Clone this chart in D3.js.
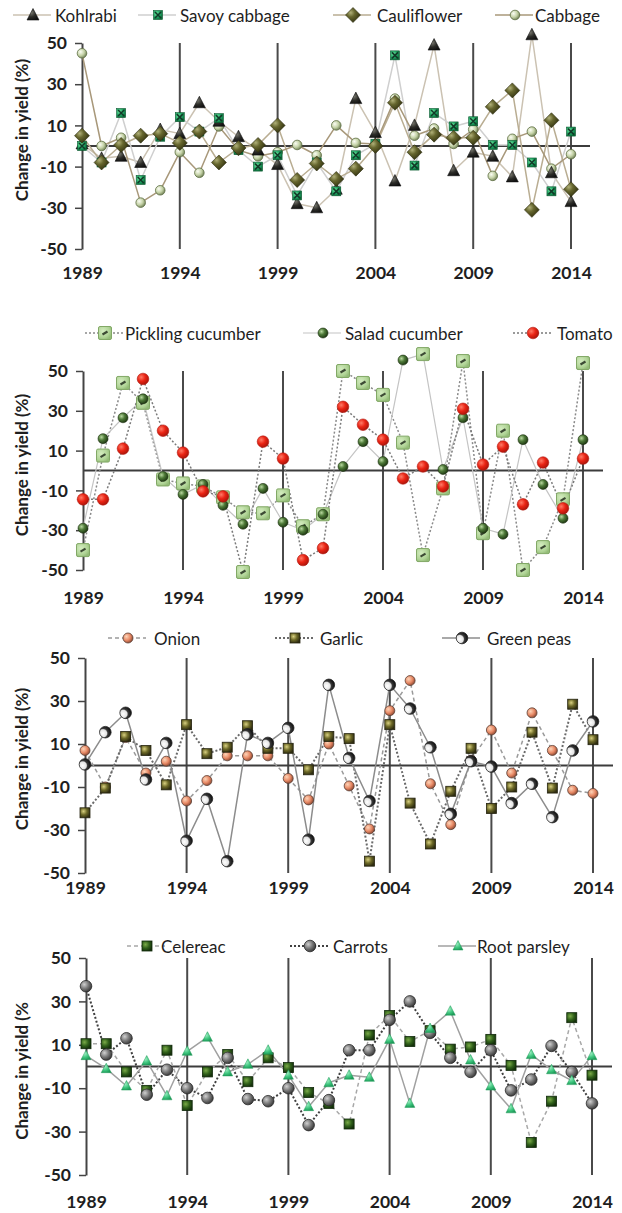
<!DOCTYPE html>
<html><head><meta charset="utf-8">
<script src="https://cdn.jsdelivr.net/npm/d3@7"></script>
<style>body{margin:0;background:#fff}svg{display:block}</style>
</head><body>
<svg id="chart" width="622" height="1213"></svg>
<script>
// Years on the x axis and the labelled ticks
const years = [1989,1990,1991,1992,1993,1994,1995,1996,1997,1998,1999,2000,2001,
               2002,2003,2004,2005,2006,2007,2008,2009,2010,2011,2012,2013,2014];
const yearTicks = [1989,1994,1999,2004,2009,2014];
const yTicks = [50,30,10,-10,-30,-50];

// Change in yield (%) by crop, 1989-2014
const kohlrabi = [1,-6,-5,-8,8,6,21,12,4.5,-2,-9,-28,-30,-21,23,6.5,-17,10,49,-12,-3,-5,-15,54,-13,-27];
const savoyCabbage = [0,-8,16,-16.5,4.5,14,7,13.5,-2,-10,-4.5,-24,-8,-22,-4.5,1,44,-9.5,16,9.5,12,0.5,0.5,-8,-22,7];
const cauliflower = [5,-8,0.5,5,6,1.5,7,-8,-1,0.5,10,-16.5,-8.5,-16,-11,0,21,-3,5.5,4,4,19,27,-31,12.5,-21];
const cabbage = [45,0,4,-27.5,-21.5,-3,-13,9.5,-2,-5,-3,0.5,-4.5,10,1.5,1,23,5,8.5,1,8,-14.5,3.5,7,-11,-4];

const picklingCucumber = [-40,7.5,44,34,-4.5,-6.5,-8,-13.5,-21,-21.5,-12.5,-28,-22,50,44,38,14,-42.5,-9,55,-31.5,20,-50,-38.5,-14.5,54];
const saladCucumber = [-29,16,26.5,36,-3,-12,-7,-17.5,-27,-9,-26,-30,-22,2,14.5,4.5,55.5,58.5,0.5,26.5,-29,-32,15.5,-7,-24,15.5];
const tomato = [-14.5,-14.5,11,46,20,9,-10.5,-13,-51,14.5,6,-45,-39,32,23,15.5,-4,2,-8,31,3,12,-17,4,-19,6];
// single points that carry a square marker instead of their series marker
const squareMarkedPoints = [{series:"Tomato", year:1997}, {series:"Salad cucumber", year:2006}];

const onion = [7,-10,13,-3.5,2,-16.5,-7,4.5,4.5,4.5,-6,-16,10,-9.5,-29.5,25.5,39.5,-8.5,-27.5,2.5,16.5,-3.5,24.5,7,-11.5,-13];
const garlic = [-22,-10.5,13.5,7,-9,19,5.5,8.5,18.5,8,8,-2,13.5,12.5,-44.5,19,-17.5,-36.5,-12,8,-20,-10,15.5,-10.5,28.5,12];
const greenPeas = [0.5,15.5,24.5,-6.5,10.5,-35,-15.5,-44.5,14.5,10.5,17.5,-34.5,37.5,3.5,-16.5,37.5,26.5,8.5,-22.5,2,-0.5,-17.5,-8.5,-24,7,20.5];

const celereac = [10.5,10.5,-2.5,-11,7.5,-18,-2.5,5.5,-7,4,-0.5,-12,-17,-26.5,14.5,23.5,11.5,16.5,8,9,12.5,0.5,-35,-16,22.5,-4];
const carrots = [37,5.5,13,-13,-1.5,-10,-14.5,4,-15,-16,-10,-27,-15.5,7.5,7.5,21.5,30,15.5,4,-2.5,7.5,-11,-6,9.5,-2.5,-17];
const rootParsley = [5,-1,-9,2.5,-13.5,7,13.5,-2.5,1,7.5,-4,-18.5,-7.5,-4,-5,12.5,-17,17.5,25.5,3,-9,-19.5,5.5,-1.5,-6.5,5];

const FONT = "Lato, 'Open Sans', sans-serif";
const svg = d3.select("#chart");
const defs = svg.append("defs");

function radial(id, stops, cx = "35%", cy = "35%") {
  const gr = defs.append("radialGradient").attr("id", id)
    .attr("cx", cx).attr("cy", cy).attr("r", "70%");
  stops.forEach(([o, c]) => gr.append("stop").attr("offset", o).attr("stop-color", c));
}
radial("gKohl", [["0%", "#7a7a70"], ["55%", "#2c2c28"], ["100%", "#111"]]);
radial("gSavoy", [["0%", "#6ee8a0"], ["60%", "#1ea060"], ["100%", "#0c6a38"]]);
radial("gOlive", [["0%", "#b0b078"], ["40%", "#66662e"], ["100%", "#30300f"]]);
radial("gCab", [["0%", "#fbfdf4"], ["55%", "#c4d2a6"], ["100%", "#6e7e54"]]);
radial("gPick", [["0%", "#d4ecc0"], ["70%", "#b0d496"], ["100%", "#94bc78"]]);
radial("gSalad", [["0%", "#b8d8a0"], ["45%", "#4e7a38"], ["100%", "#1c3410"]]);
radial("gTomato", [["0%", "#ff7a66"], ["50%", "#ea2414"], ["100%", "#a8140a"]]);
radial("gOnion", [["0%", "#fdd4b8"], ["55%", "#e88a66"], ["100%", "#8a4630"]]);
radial("gGarlic", [["0%", "#d8d080"], ["50%", "#6e6a28"], ["100%", "#2e2c10"]]);
radial("gPeas", [["0%", "#ffffff"], ["45%", "#e4e4e4"], ["60%", "#3a3a3a"], ["100%", "#0e0e0e"]], "30%", "60%");
radial("gCeler", [["0%", "#7aaa48"], ["55%", "#30601a"], ["100%", "#14300a"]]);
radial("gCarrot", [["0%", "#d0d0d0"], ["50%", "#7c7c7c"], ["100%", "#343434"]]);
radial("gParsley", [["0%", "#a0f0c4"], ["60%", "#3cc47c"], ["100%", "#1e9a58"]]);

// Marker shapes, each drawn centred on (cx, cy)
const markers = {
  triangleDark(g, cx, cy) {
    g.append("path").attr("d", `M${cx},${cy-6.5}L${cx+6},${cy+5}L${cx-6},${cy+5}Z`)
      .attr("fill", "url(#gKohl)").attr("stroke", "#111").attr("stroke-width", 0.6);
  },
  savoySquare(g, cx, cy) {
    g.append("rect").attr("x", cx-4.5).attr("y", cy-4.5).attr("width", 9).attr("height", 9)
      .attr("fill", "url(#gSavoy)").attr("stroke", "#0a5a30").attr("stroke-width", 0.6);
    g.append("path").attr("d", `M${cx-3},${cy-3}L${cx+3},${cy+3}M${cx+3},${cy-3}L${cx-3},${cy+3}`)
      .attr("stroke", "#123a28").attr("stroke-width", 1.6);
  },
  diamond(g, cx, cy) {
    g.append("path").attr("d", `M${cx},${cy-7.5}L${cx+7.5},${cy}L${cx},${cy+7.5}L${cx-7.5},${cy}Z`)
      .attr("fill", "url(#gOlive)").attr("stroke", "#2e2e10").attr("stroke-width", 0.6);
  },
  cabbageCircle(g, cx, cy) {
    g.append("circle").attr("cx", cx).attr("cy", cy).attr("r", 4.8)
      .attr("fill", "url(#gCab)").attr("stroke", "#5e6e44").attr("stroke-width", 0.8);
  },
  pickleSquare(g, cx, cy) {
    g.append("rect").attr("x", cx-6.5).attr("y", cy-6.5).attr("width", 13).attr("height", 13).attr("rx", 1.5)
      .attr("fill", "url(#gPick)").attr("stroke", "#82a866").attr("stroke-width", 1);
    g.append("path").attr("d", `M${cx-2.5},${cy+1.5}L${cx+2.5},${cy-1.5}`)
      .attr("stroke", "#3c4a34").attr("stroke-width", 2.2);
  },
  saladCircle(g, cx, cy) {
    g.append("circle").attr("cx", cx).attr("cy", cy).attr("r", 5)
      .attr("fill", "url(#gSalad)").attr("stroke", "#1c3010").attr("stroke-width", 0.6);
  },
  tomatoCircle(g, cx, cy) {
    g.append("circle").attr("cx", cx).attr("cy", cy).attr("r", 5.8)
      .attr("fill", "url(#gTomato)").attr("stroke", "#b01a10").attr("stroke-width", 0.6);
  },
  onionCircle(g, cx, cy) {
    g.append("circle").attr("cx", cx).attr("cy", cy).attr("r", 5)
      .attr("fill", "url(#gOnion)").attr("stroke", "#5a4036").attr("stroke-width", 0.8);
  },
  garlicSquare(g, cx, cy) {
    g.append("rect").attr("x", cx-5).attr("y", cy-5).attr("width", 10).attr("height", 10)
      .attr("fill", "url(#gGarlic)").attr("stroke", "#262410").attr("stroke-width", 0.8);
  },
  peasCircle(g, cx, cy) {
    g.append("circle").attr("cx", cx).attr("cy", cy).attr("r", 5.8)
      .attr("fill", "url(#gPeas)").attr("stroke", "#222").attr("stroke-width", 0.8);
  },
  celerSquare(g, cx, cy) {
    g.append("rect").attr("x", cx-5).attr("y", cy-5).attr("width", 10).attr("height", 10)
      .attr("fill", "url(#gCeler)").attr("stroke", "#10280a").attr("stroke-width", 0.8);
  },
  carrotCircle(g, cx, cy) {
    g.append("circle").attr("cx", cx).attr("cy", cy).attr("r", 5.8)
      .attr("fill", "url(#gCarrot)").attr("stroke", "#2a2a2a").attr("stroke-width", 0.8);
  },
  parsleyTriangle(g, cx, cy) {
    g.append("path").attr("d", `M${cx},${cy-5.5}L${cx+5},${cy+4}L${cx-5},${cy+4}Z`)
      .attr("fill", "url(#gParsley)").attr("stroke", "#1e9a58").attr("stroke-width", 0.5);
  }
};

const panels = [
  { top: 43, bottom: 249, left: 82, right: 571, zeroEnd: 590, yearY: 279, legendY: 15, labelY: 130,
    yLabel: "Change in yield (%)",
    series: [
      { name: "Kohlrabi", values: kohlrabi, marker: "triangleDark", stroke: "#cbc2b2", width: 1.5, dash: null, mx: 33, tx: 55, z: 1 },
      { name: "Savoy cabbage", values: savoyCabbage, marker: "savoySquare", stroke: "#cfcfcf", width: 1.5, dash: null, mx: 158, tx: 180, z: 2 },
      { name: "Cauliflower", values: cauliflower, marker: "diamond", stroke: "#b9ad92", width: 1.5, dash: null, mx: 353, tx: 377, z: 3 },
      { name: "Cabbage", values: cabbage, marker: "cabbageCircle", stroke: "#a8987a", width: 1.5, dash: null, mx: 515, tx: 535, z: 0 }
    ] },
  { top: 371, bottom: 570, left: 83, right: 583, zeroEnd: 603, yearY: 604, legendY: 333, labelY: 465,
    yLabel: "Change in yield (%)",
    series: [
      { name: "Pickling cucumber", values: picklingCucumber, marker: "pickleSquare", stroke: "#8a8a8a", width: 1.5, dash: "2,2", mx: 105, tx: 125, z: 0 },
      { name: "Salad cucumber", values: saladCucumber, marker: "saladCircle", stroke: "#c4c4c4", width: 1.2, dash: null, mx: 323, tx: 345, z: 1 },
      { name: "Tomato", values: tomato, marker: "tomatoCircle", stroke: "#7a7a7a", width: 1.5, dash: "2,2", mx: 533, tx: 557, z: 2 }
    ] },
  { top: 658, bottom: 873, left: 85, right: 593, zeroEnd: 613, yearY: 894, legendY: 638, labelY: 759,
    yLabel: "Change in yield (%)",
    series: [
      { name: "Onion", values: onion, marker: "onionCircle", stroke: "#9a9a9a", width: 1.5, dash: "4,3", mx: 128, tx: 154, z: 0 },
      { name: "Garlic", values: garlic, marker: "garlicSquare", stroke: "#6a6a6a", width: 2, dash: "2,2", mx: 295, tx: 320, z: 1 },
      { name: "Green peas", values: greenPeas, marker: "peasCircle", stroke: "#8c8c8c", width: 1.5, dash: null, mx: 462, tx: 487, z: 2 }
    ] },
  { top: 958, bottom: 1175, left: 86, right: 592, zeroEnd: 612, yearY: 1208, legendY: 946, labelY: 1071,
    yLabel: "Change in yield (%",
    series: [
      { name: "Celereac", values: celereac, marker: "celerSquare", stroke: "#a8a8a8", width: 1.5, dash: "4,3", mx: 147, tx: 161, z: 0 },
      { name: "Carrots", values: carrots, marker: "carrotCircle", stroke: "#404040", width: 2, dash: "2,2", mx: 310, tx: 333, z: 1 },
      { name: "Root parsley", values: rootParsley, marker: "parsleyTriangle", stroke: "#a0a0a0", width: 1.5, dash: null, mx: 458, tx: 477, z: 2 }
    ] }
];

panels.forEach(p => {
  const x = d3.scaleLinear().domain([years[0], years[years.length - 1]]).range([p.left, p.right]);
  const y = d3.scaleLinear().domain([-50, 50]).range([p.bottom, p.top]);
  const g = svg.append("g");

  // year separators
  g.selectAll("line.sep").data(yearTicks.slice(1)).join("line").attr("class", "sep")
    .attr("x1", d => x(d)).attr("x2", d => x(d)).attr("y1", p.top).attr("y2", p.bottom)
    .attr("stroke", "#4a4a4a").attr("stroke-width", 2);

  // zero line
  g.append("line").attr("x1", p.left).attr("x2", p.zeroEnd).attr("y1", y(0)).attr("y2", y(0))
    .attr("stroke", "#3c3c3c").attr("stroke-width", 1.8);

  // y axis
  const ya = g.append("g").attr("transform", `translate(${p.left},0)`)
    .call(d3.axisLeft(y).tickValues(yTicks).tickSize(7).tickSizeOuter(0).tickPadding(8).tickFormat(d => String(d)));
  ya.select(".domain").attr("stroke", "#444").attr("stroke-width", 2);
  ya.selectAll(".tick line").attr("stroke", "#444").attr("stroke-width", 1.5);
  ya.selectAll(".tick text").attr("font-family", FONT).attr("font-weight", 700)
    .attr("font-size", 17.5).attr("fill", "#1e1e1e");

  // year labels
  const xa = g.append("g").attr("transform", `translate(0,${p.yearY})`)
    .call(d3.axisBottom(x).tickValues(yearTicks).tickSize(0).tickPadding(0).tickFormat(d => String(d)));
  xa.select(".domain").remove();
  xa.selectAll(".tick text").attr("dy", 0).attr("font-family", FONT).attr("font-weight", 700)
    .attr("font-size", 17.5).attr("fill", "#1e1e1e");

  // y axis title
  svg.append("text").attr("transform", `translate(21,${p.labelY}) rotate(-90)`)
    .attr("text-anchor", "middle").attr("dominant-baseline", "central")
    .attr("font-family", FONT).attr("font-weight", 700).attr("font-size", 17).attr("fill", "#1e1e1e")
    .text(p.yLabel);

  // series lines
  const line = d3.line().x((d, i) => x(years[i])).y(d => y(d));
  p.series.forEach(s => {
    g.append("path").datum(s.values).attr("d", line).attr("fill", "none")
      .attr("stroke", s.stroke).attr("stroke-width", s.width)
      .attr("stroke-dasharray", s.dash).attr("stroke-linejoin", "round");
  });

  // markers, back to front
  p.series.slice().sort((a, b) => a.z - b.z).forEach(s => {
    const mg = g.append("g");
    s.values.forEach((v, i) => {
      const flagged = squareMarkedPoints.some(f => f.series === s.name && f.year === years[i]);
      markers[flagged ? "pickleSquare" : s.marker](mg, x(years[i]), y(v));
    });
  });

  // legend
  const lg = svg.append("g");
  p.series.forEach(s => {
    lg.append("line").attr("x1", s.mx - 20).attr("x2", s.mx + 18).attr("y1", p.legendY).attr("y2", p.legendY)
      .attr("stroke", s.stroke).attr("stroke-width", s.width).attr("stroke-dasharray", s.dash);
    markers[s.marker](lg, s.mx, p.legendY);
    lg.append("text").attr("x", s.tx).attr("y", p.legendY).attr("dominant-baseline", "central")
      .attr("font-family", FONT).attr("font-size", 17).attr("fill", "#1e1e1e").text(s.name);
  });
});
</script>
</body></html>
